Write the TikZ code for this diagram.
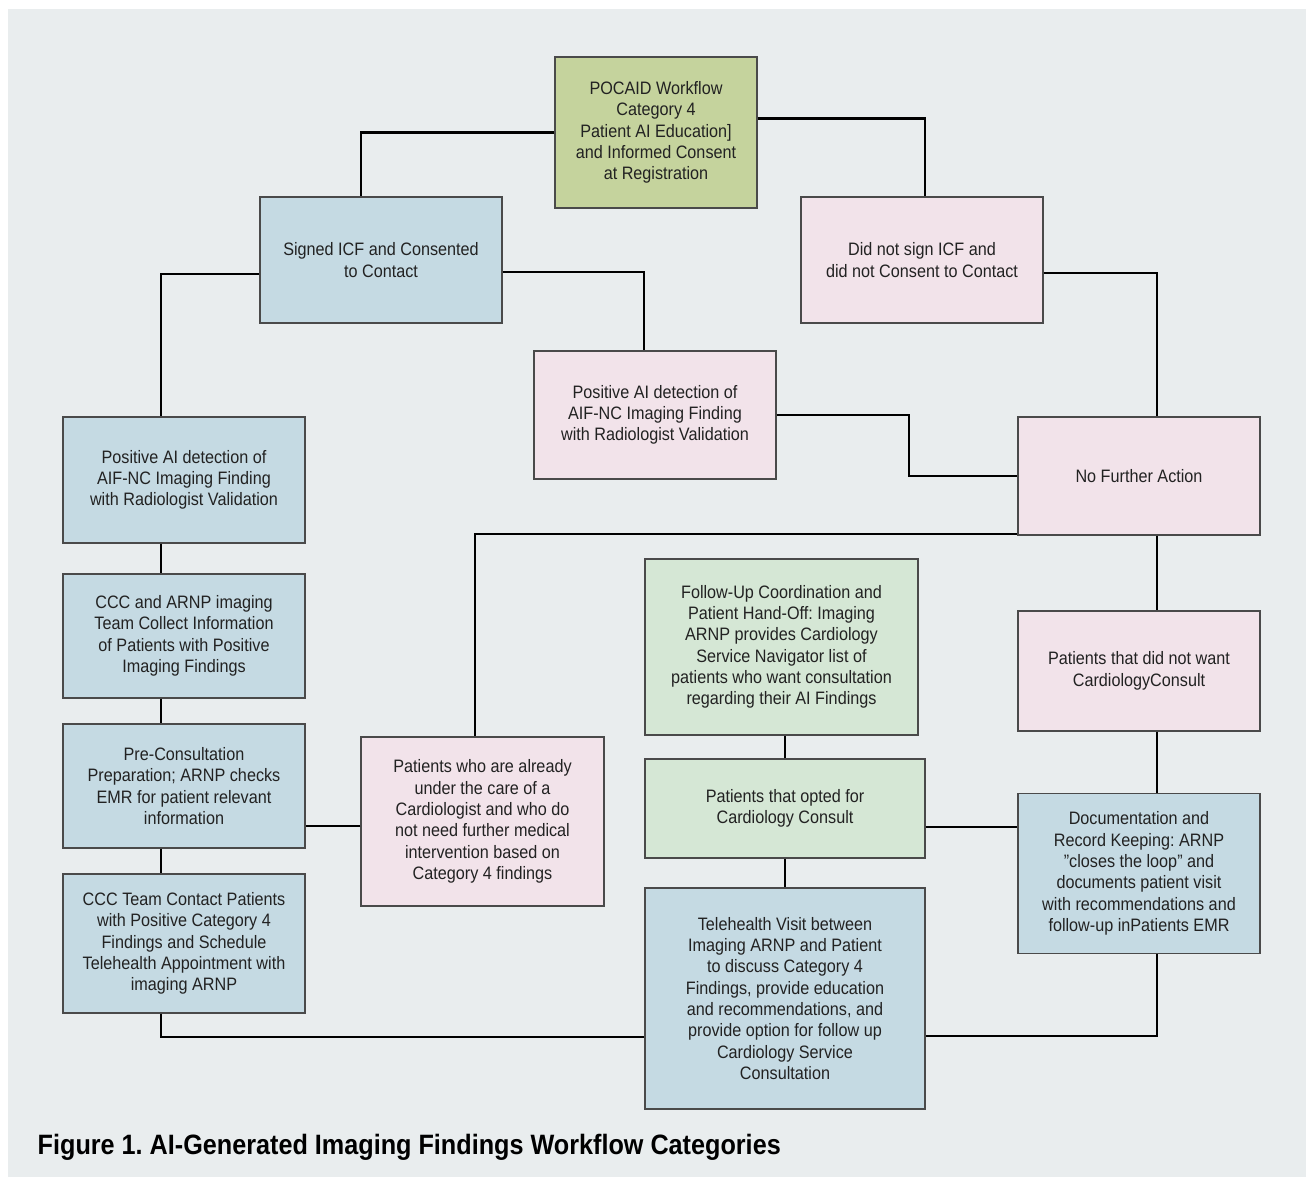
\documentclass[tikz,border=0pt]{standalone}
\usepackage{fontspec}
\setmainfont[FakeStretch=0.9]{Liberation Sans}
\usetikzlibrary{positioning,calc}
\frenchspacing

\definecolor{panelgray}{HTML}{E9EDEE}
\definecolor{boxline}{HTML}{4A4A4A}
\definecolor{textdark}{HTML}{222222}
\definecolor{boxolive}{HTML}{C5D39D}
\definecolor{boxblue}{HTML}{C5DAE3}
\definecolor{boxpink}{HTML}{F2E3EA}
\definecolor{boxgreen}{HTML}{D5E7D5}

\begin{document}
\begin{tikzpicture}[
    x=0.75pt,y=-0.75pt,
    wh/.style 2 args={
      minimum width={#1*0.75pt},minimum height={#2*0.75pt}
    },
    box/.style={
      draw=boxline,line width=0.9pt,inner sep=0pt,align=center,
      text=textdark,font=\fontsize{13.5}{16}\selectfont
    },
    olivebox/.style={box,fill=boxolive},
    bluebox/.style={box,fill=boxblue},
    pinkbox/.style={box,fill=boxpink},
    greenbox/.style={box,fill=boxgreen},
    link/.style={draw=black,line width=1.6pt}]

  \useasboundingbox (0,0) rectangle (1306,1177);
  \fill[panelgray] (8,9) rectangle (1306,1177);

  % top of the workflow
  \node[olivebox,wh={202}{151}] (consent) at (656,132.5)
    {POCAID Workflow\\Category 4\\Patient AI Education]\\and Informed Consent\\at Registration};
  \node[bluebox,wh={242}{126}] (signed) at (381,260)
    {Signed ICF and Consented\\to Contact};
  \node[pinkbox,wh={242}{126}] (nosign) at (922,260)
    {Did not sign ICF and\\did not Consent to Contact};

  % middle
  \node[pinkbox,wh={242}{128}] (posmid) at (655,415)
    {Positive AI detection of\\AIF-NC Imaging Finding\\with Radiologist Validation};
  \node[pinkbox,wh={242}{118}] (noaction) at (1139,476)
    {No Further Action};
  \node[pinkbox,wh={242}{120}] (nowant) at (1139,671)
    {Patients that did not want\\CardiologyConsult};
  \node[bluebox,wh={242}{160}] (records) at (1139,873.5)
    {Documentation and\\Record Keeping: ARNP\\\symbol{"22}closes the loop\symbol{"22} and\\documents patient visit\\with recommendations and\\follow-up inPatients EMR};

  % left column
  \node[bluebox,wh={242}{126}] (posleft) at (184,480)
    {Positive AI detection of\\AIF-NC Imaging Finding\\with Radiologist Validation};
  \node[bluebox,wh={242}{124}] (collect) at (184,636)
    {CCC and ARNP imaging\\Team Collect Information\\of Patients with Positive\\Imaging Findings};
  \node[bluebox,wh={242}{124}] (prepare) at (184,786)
    {Pre-Consultation\\Preparation; ARNP checks\\EMR for patient relevant\\information};
  \node[bluebox,wh={242}{139}] (contact) at (184,943.5)
    {CCC Team Contact Patients\\with Positive Category 4\\Findings and Schedule\\Telehealth Appointment with\\imaging ARNP};
  \node[pinkbox,wh={243}{169}] (already) at (482.5,821.5)
    {Patients who are already\\under the care of a\\Cardiologist and who do\\not need further medical\\intervention based on\\Category 4 findings};

  % consult branch
  \node[greenbox,wh={273}{176}] (handoff) at (781.5,647)
    {Follow-Up Coordination and\\Patient Hand-Off: Imaging\\ARNP provides Cardiology\\Service Navigator list of\\patients who want consultation\\regarding their AI Findings};
  \node[greenbox,wh={280}{99}] (opted) at (785,808.5)
    {Patients that opted for\\Cardiology Consult};
  \node[bluebox,wh={280}{221}] (visit) at (785,998.5)
    {Telehealth Visit between\\Imaging ARNP and Patient\\to discuss Category 4\\Findings, provide education\\and recommendations, and\\provide option for follow up\\Cardiology Service\\Consultation};

  % connectors
  \draw[link] (consent.west) -| ($(signed.north)+(-20,0)$);
  \draw[link] ($(consent.east)+(0,-14)$) -| ($(nosign.north)+(3,0)$);
  \draw[link] ($(signed.west)+(0,14)$) -| ($(posleft.north)+(-23,0)$);
  \draw[link] ($(signed.east)+(0,12)$) -| ($(posmid.north)+(-11,0)$);
  \draw[link] ($(nosign.east)+(0,13)$) -| ($(noaction.north)+(18,0)$);
  \draw[link] (posmid.east) -- ++(132,0) |- (noaction.west);
  \draw[link] ($(noaction.south west)+(0,-2)$) -| ($(already.north)+(-7.5,0)$);
  \draw[link] ($(noaction.south)+(18,0)$) -- ($(nowant.north)+(18,0)$);
  \draw[link] ($(nowant.south)+(18,0)$) -- ($(records.north)+(18,0)$);
  \draw[link] ($(posleft.south)+(-23,0)$) -- ($(collect.north)+(-23,0)$);
  \draw[link] ($(collect.south)+(-23,0)$) -- ($(prepare.north)+(-23,0)$);
  \draw[link] ($(prepare.south)+(-23,0)$) -- ($(contact.north)+(-23,0)$);
  \draw[link] ($(already.west)+(0,4.5)$) -- ($(prepare.east)+(0,40)$);
  \draw[link] ($(contact.south)+(-23,0)$) |- ($(visit.west)+(0,38.5)$);
  \draw[link] (opted.north) -- (opted.north |- handoff.south);
  \draw[link] (opted.south) -- (visit.north);
  \draw[link] ($(opted.east)+(0,18.5)$) -- ($(records.west)+(0,-46.5)$);
  \draw[link] ($(records.south)+(18,0)$) |- ($(visit.east)+(0,37.5)$);

  \node[anchor=west,text=black,font=\bfseries\fontsize{21}{24}\selectfont] (caption) at (33,1147)
    {Figure 1. AI-Generated Imaging Findings Workflow Categories};
\end{tikzpicture}
\end{document}
